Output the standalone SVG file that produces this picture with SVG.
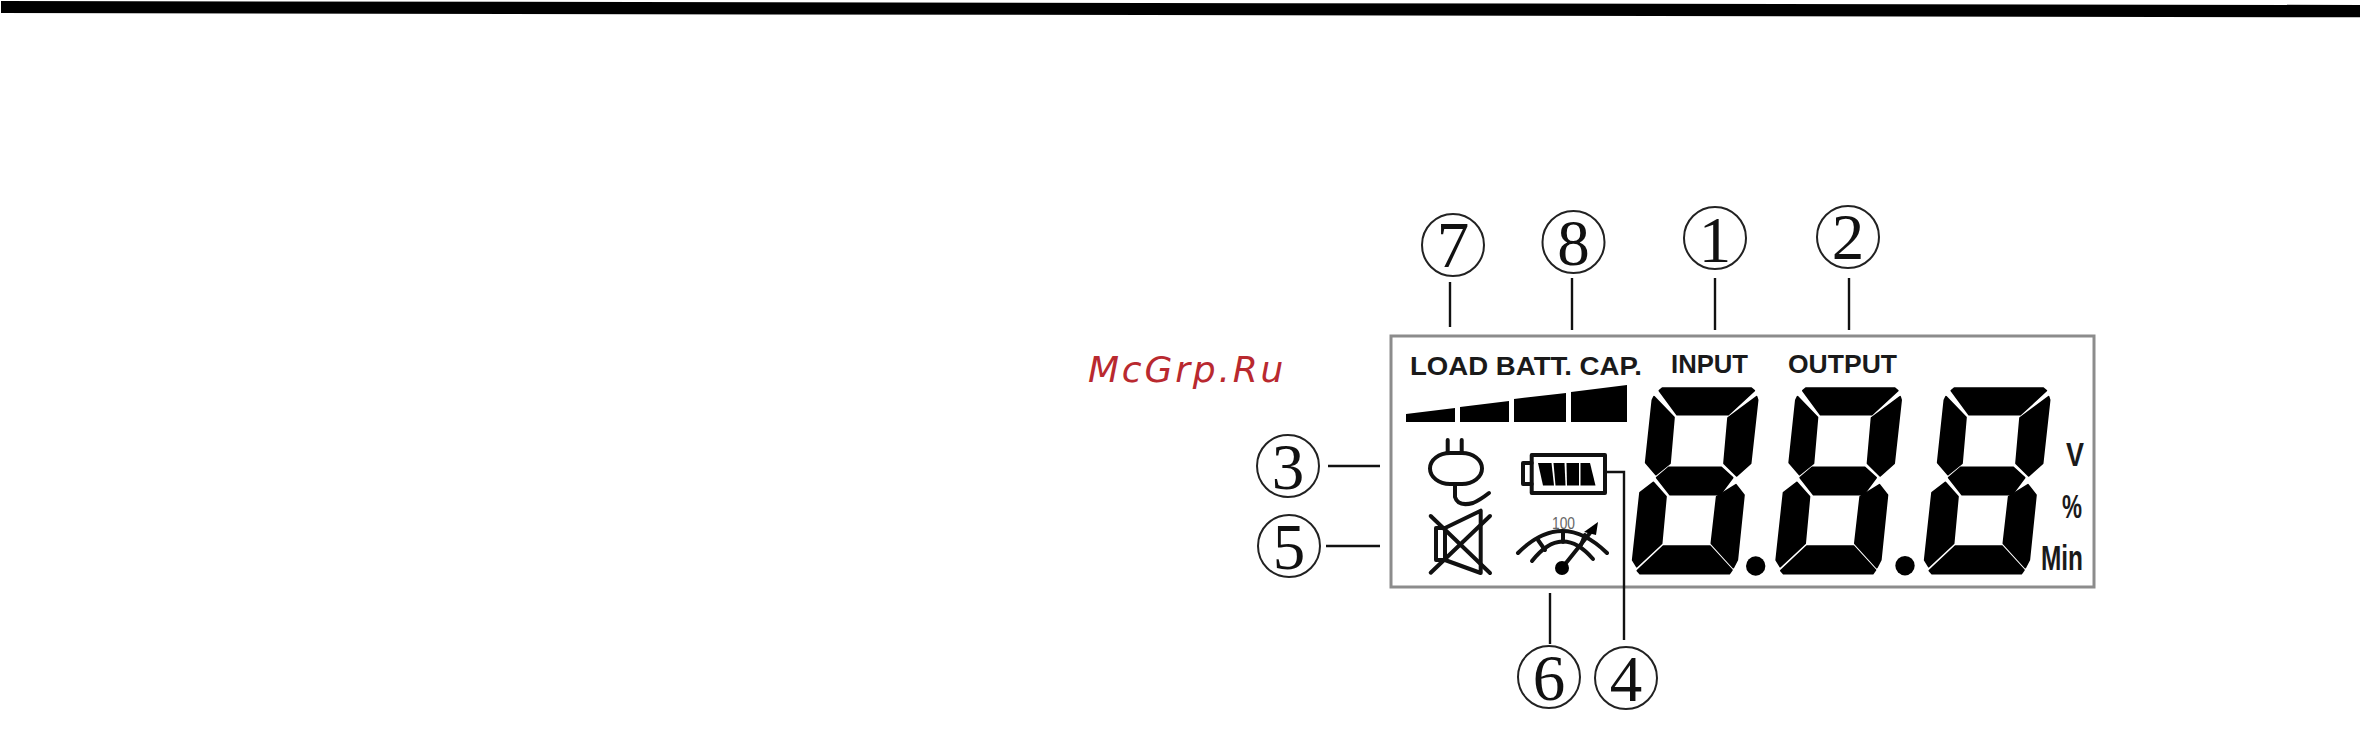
<svg xmlns="http://www.w3.org/2000/svg" width="2360" height="737" viewBox="0 0 2360 737">
<style>
.ring{fill:none;stroke:#222;stroke-width:2}
.num{font-family:"Liberation Serif",serif;font-size:65px;fill:#111;text-anchor:middle}
.lead{fill:none;stroke:#111;stroke-width:2.4}
.lbl{font-family:"Liberation Sans",sans-serif;font-weight:700;font-size:26px;fill:#1a1a1a}
.ico{fill:none;stroke:#111;stroke-width:4;stroke-linecap:round;stroke-linejoin:round}
.seg{fill:#000;stroke:#000;stroke-width:5;stroke-linejoin:round}
</style>
<defs>
<g id="digit" transform="scale(.3333)">
<polygon class="seg" points="118,32 127,24 393,24 403,32 325,104 171,104"/>
<polygon class="seg" points="102,50 162,112 150,250 108,284 77,248 97,60"/>
<polygon class="seg" points="410,50 413,60 392,250 350,288 312,250 324,114"/>
<polygon class="seg" points="110,293 146,262 304,262 338,293 300,344 150,344"/>
<polygon class="seg" points="100,307 138,350 125,490 50,560 38,540 60,338"/>
<polygon class="seg" points="348,314 372,345 352,540 340,563 274,490 290,350"/>
<polygon class="seg" points="52,572 130,498 270,498 336,570 328,581 60,581"/>
</g>
</defs>
<polygon id="top-rule" points="1,1 2360,5 2360,17.300 1,13" fill="#000"/>
<text id="mark" x="1088" y="382" font-family="DejaVu Sans,sans-serif" font-style="oblique" font-size="36" letter-spacing="2.8" fill="#b9292f">McGrp.Ru</text>
<g id="panel">
<rect x="1391" y="336" width="703" height="251" fill="none" stroke="#8c8c8c" stroke-width="3"/>
<text class="lbl" x="1410" y="375" textLength="232" lengthAdjust="spacingAndGlyphs">LOAD BATT. CAP.</text>
<text class="lbl" x="1671" y="373" textLength="77" lengthAdjust="spacingAndGlyphs">INPUT</text>
<text class="lbl" x="1788" y="373" textLength="109" lengthAdjust="spacingAndGlyphs">OUTPUT</text>
<text class="lbl" x="2066" y="466" style="font-size:33px" textLength="18" lengthAdjust="spacingAndGlyphs">V</text>
<text class="lbl" x="2062" y="518" style="font-size:33px" textLength="20" lengthAdjust="spacingAndGlyphs">%</text>
<text class="lbl" x="2041" y="570" style="font-size:35px" textLength="42" lengthAdjust="spacingAndGlyphs">Min</text>
</g>
<g id="load-bars" fill="#000">
<polygon points="1406,414 1455,408 1455,422 1406,422"/>
<polygon points="1460,407 1509,401 1509,422 1460,422"/>
<polygon points="1514,399 1566,393 1566,422 1514,422"/>
<polygon points="1571,392 1627,385 1627,422 1571,422"/>
</g>
<g id="digits">
<use href="#digit" transform="translate(1620 380)"/>
<use href="#digit" transform="translate(1763.500 380)"/>
<use href="#digit" transform="translate(1912 380)"/>
<circle cx="1755.700" cy="566" r="9.700"/>
<circle cx="1905" cy="565.700" r="9.700"/>
</g>
<g id="plug" class="ico">
<path d="M1447.700 440V453M1461.700 440V453"/>
<rect x="1430" y="453" width="52" height="31" rx="20" ry="15.500"/>
<path d="M1455 484V497Q1458 507 1473 503Q1480 500 1489 493"/>
</g>
<g id="battery" class="ico">
<rect x="1531.700" y="455" width="73.300" height="38"/>
<path d="M1531.700 463H1523V484H1531.700"/>
</g>
<g id="charge" fill="#000">
<polygon points="1538,463 1551.500,463 1554,485.500 1543,485.500"/>
<polygon points="1553.500,463 1564.500,463 1565.500,485.500 1555.500,485.500"/>
<polygon points="1566.500,463 1579,463 1579,485.500 1567,485.500"/>
<polygon points="1580.500,463 1590,463 1595.500,485.500 1580.500,485.500"/>
</g>
<g id="mute" class="ico">
<path d="M1445 528H1436V560H1445"/>
<path d="M1445 528L1480.700 510.700V573L1445 560Z"/>
<path d="M1430.700 516L1490 573M1430.700 572.700L1490 516"/>
</g>
<g id="gauge">
<g class="ico">
<path d="M1518 553Q1562 509 1607 553"/>
<path d="M1532 561Q1562 523 1593 559"/>
<path d="M1538 540L1545 550M1563 532V542M1585 535L1581 545"/>
<path d="M1562 568L1590 533"/>
</g>
<polygon points="1598,522 1584,532 1596,535"/>
<circle cx="1562" cy="568" r="7"/>
<text x="1552" y="529" font-family="Liberation Sans,sans-serif" font-size="17" textLength="23" lengthAdjust="spacingAndGlyphs" fill="#666">100</text>
</g>
<g id="connectors">
<path class="lead" d="M1450 282V327"/>
<path class="lead" d="M1572 278V330"/>
<path class="lead" d="M1715 278V330"/>
<path class="lead" d="M1849 278V330"/>
<path class="lead" d="M1328 466H1380"/>
<path class="lead" d="M1326 546H1380"/>
<path class="lead" d="M1550 593V644"/>
<path class="lead" d="M1606 472H1624V640"/>
</g>
<g id="c7"><circle class="ring" cx="1453" cy="245" r="31"/><text class="num" x="1453" y="267">7</text></g>
<g id="c8"><circle class="ring" cx="1573.500" cy="242" r="31"/><text class="num" x="1573.500" y="265">8</text></g>
<g id="c1"><circle class="ring" cx="1715" cy="238" r="31"/><text class="num" x="1715" y="262">1</text></g>
<g id="c2"><circle class="ring" cx="1848" cy="237" r="31"/><text class="num" x="1848" y="259">2</text></g>
<g id="c3"><circle class="ring" cx="1288" cy="466" r="31"/><text class="num" x="1288" y="489">3</text></g>
<g id="c5"><circle class="ring" cx="1289" cy="546" r="31"/><text class="num" x="1289" y="569">5</text></g>
<g id="c6"><circle class="ring" cx="1549" cy="677" r="31"/><text class="num" x="1549" y="700">6</text></g>
<g id="c4"><circle class="ring" cx="1626" cy="678" r="31"/><text class="num" x="1626" y="701">4</text></g>
</svg>
